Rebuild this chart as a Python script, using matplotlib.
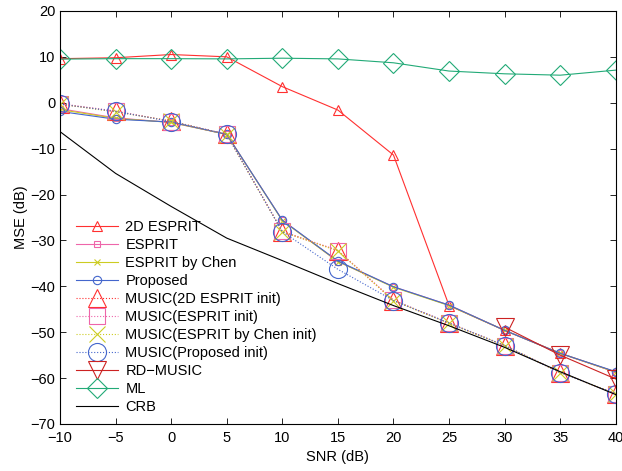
import matplotlib.pyplot as plt

plt.rcParams['font.family'] = ['Liberation Sans', 'DejaVu Sans']
plt.rcParams['font.size'] = 10.5

snr = [-10, -5, 0, 5, 10, 15, 20, 25, 30, 35, 40]

esprit_2d = [9.6, 9.8, 10.5, 10.0, 3.5, -1.6, -11.4, -44.2, -49.6, -54.6, -58.7]
esprit = [-1.3, -3.3, -4.3, -6.9, -25.6, -34.6, -40.1, -44.1, -49.6, -54.6, -58.7]
esprit_chen = [-1.5, -3.4, -4.3, -6.9, -25.7, -34.6, -40.2, -44.2, -49.6, -54.6, -58.7]
proposed = [-1.9, -3.6, -4.2, -6.9, -25.6, -34.5, -40.1, -44.1, -49.6, -54.6, -58.6]

music_2d = [-0.3, -1.9, -4.0, -6.9, -28.1, -32.2, -43.1, -48.0, -52.9, -58.8, -63.4]
music_esprit = [-0.2, -1.8, -4.1, -6.9, -28.0, -32.2, -43.0, -48.0, -52.9, -58.8, -63.4]
music_chen = [-0.3, -2.0, -4.0, -7.0, -28.1, -32.3, -43.1, -48.1, -52.9, -58.8, -63.4]
music_proposed = [-0.3, -1.9, -4.1, -6.9, -28.1, -36.3, -43.1, -48.0, -52.9, -58.8, -63.4]

rd_snr = [30, 35, 40]
rd_music = [-48.9, -55.0, -60.2]

ml = [9.5, 9.6, 9.6, 9.55, 9.7, 9.55, 8.7, 6.9, 6.3, 6.0, 7.1]
crb = [-6.3, -15.4, -22.6, -29.5, -34.4, -39.4, -44.2, -48.6, -53.3, -58.6, -63.6]

red = '#ff3030'
pink = '#ee66aa'
yellow = '#cccc22'
blue = '#4466cc'
darkred = '#cc2222'
green = '#22aa77'

fig = plt.figure(figsize=(6.22, 4.71), dpi=100)
ax = fig.add_axes([0.0965, 0.0998, 0.8935, 0.877])

lw = 0.8
ax.plot(snr, esprit_2d, '-', color=red, lw=lw, marker='^', ms=7, mfc='none', mew=0.8, label='2D ESPRIT')
ax.plot(snr, esprit, '-', color=pink, lw=lw, marker='s', ms=5, mfc='none', mew=0.8, label='ESPRIT')
ax.plot(snr, esprit_chen, '-', color=yellow, lw=lw, marker='x', ms=4, mew=0.8, label='ESPRIT by Chen')
ax.plot(snr, proposed, '-', color=blue, lw=lw, marker='o', ms=6, mfc='none', mew=0.8, label='Proposed')

ax.plot(snr, music_2d, ':', color=red, lw=lw, marker='^', ms=13, mfc='none', mew=0.8, label='MUSIC(2D ESPRIT init)')
ax.plot(snr, music_esprit, ':', color=pink, lw=lw, marker='s', ms=11, mfc='none', mew=0.8, label='MUSIC(ESPRIT init)')
ax.plot(snr, music_chen, ':', color=yellow, lw=lw, marker='x', ms=11, mew=0.8, label='MUSIC(ESPRIT by Chen init)')
ax.plot(snr, music_proposed, ':', color=blue, lw=lw, marker='o', ms=13, mfc='none', mew=0.8, label='MUSIC(Proposed init)')

ax.plot(rd_snr, rd_music, '-', color=darkred, lw=lw, marker='v', ms=13, mfc='none', mew=0.8, label='RD\u2212MUSIC')
ax.plot(snr, ml, '-', color=green, lw=lw, marker='D', ms=10, mfc='none', mew=0.8, label='ML')
ax.plot(snr, crb, '-', color='black', lw=lw, label='CRB')

ax.set_xlim(-10, 40)
ax.set_ylim(-70, 20)
ax.set_xticks(range(-10, 41, 5))
ax.set_yticks(range(-70, 21, 10))
ax.tick_params(direction='in', top=True, right=True, length=4, width=0.6)
ax.tick_params(axis='x', pad=5)
for s in ax.spines.values():
    s.set_linewidth(0.8)

ax.set_xlabel('SNR (dB)', labelpad=4)
ax.set_ylabel('MSE (dB)', labelpad=2)

ax.legend(loc='lower left', bbox_to_anchor=(0.01, 0.0), frameon=False,
          handlelength=2.9, labelspacing=0.27, handletextpad=0.5, borderaxespad=0.3)

fig.savefig('out.png', dpi=100)
